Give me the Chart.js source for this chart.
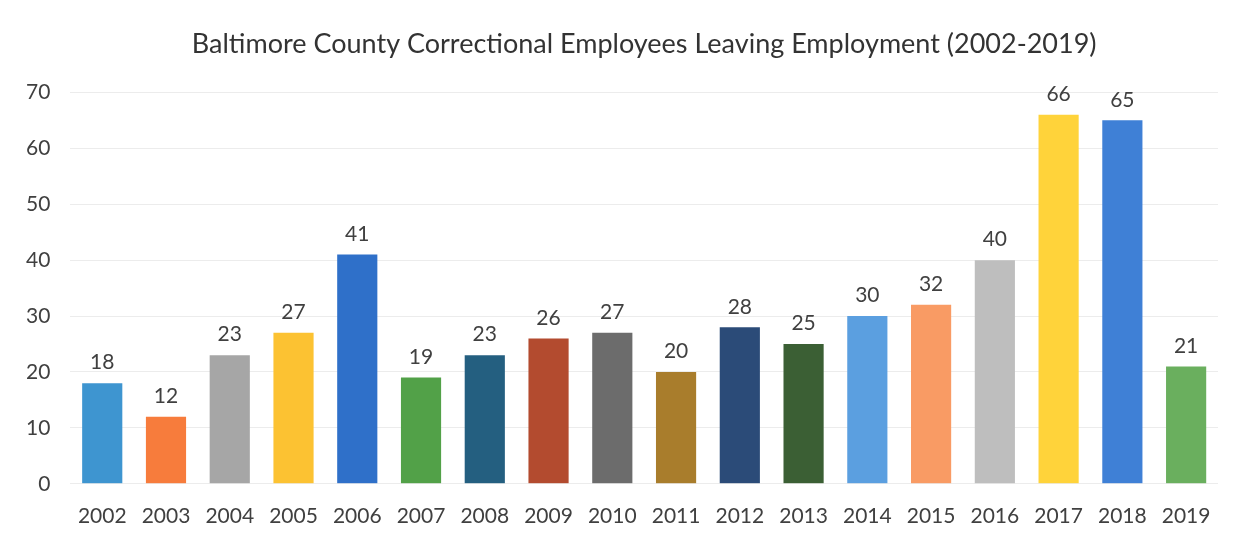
<!DOCTYPE html>
<html>
<head>
<meta charset="utf-8">
<script src="https://cdn.jsdelivr.net/npm/chart.js@4"></script>
<style>
  html, body { margin: 0; padding: 0; background: #fff; }
  #wrap { width: 1249px; height: 541px; }
</style>
</head>
<body>
<div id="wrap"><canvas id="chartLeaving"></canvas></div>
<script>
const years = ['2002', '2003', '2004', '2005', '2006', '2007', '2008', '2009', '2010',
  '2011', '2012', '2013', '2014', '2015', '2016', '2017', '2018', '2019'];
const leaving = [18, 12, 23, 27, 41, 19, 23, 26, 27, 20, 28, 25, 30, 32, 40, 66, 65, 21];
const barColors = ['#3e95d0', '#f77c3c', '#a6a6a6', '#fcc232', '#2f70c9', '#52a148',
  '#245f80', '#b34b2f', '#6c6c6c', '#a97d2c', '#2b4b78', '#3b5f34',
  '#5b9fe0', '#f99b64', '#bebebe', '#ffd33a', '#3f80d6', '#6aaf5e'];
const yTicks = [0, 10, 20, 30, 40, 50, 60, 70];

// draws the value above each bar
const valueLabels = {
  id: 'valueLabels',
  afterDatasetsDraw(chart) {
    const ctx = chart.ctx;
    const meta = chart.getDatasetMeta(0);
    ctx.save();
    ctx.font = '21px Lato';
    ctx.fillStyle = '#404040';
    ctx.textAlign = 'center';
    ctx.textBaseline = 'bottom';
    meta.data.forEach((bar, i) => {
      ctx.fillText(String(leaving[i]), bar.x, bar.y - 10);
    });
    ctx.restore();
  }
};

const ctx = document.getElementById('chartLeaving');

new Chart(ctx, {
  type: 'bar',
  data: {
    labels: years,
    datasets: [{
      label: 'Employees leaving',
      data: leaving,
      backgroundColor: barColors,
      barPercentage: 0.63,
      categoryPercentage: 1.0
    }]
  },
  options: {
    responsive: true,
    maintainAspectRatio: false,
    animation: false,
    layout: { padding: { top: 28, left: 6, right: 31, bottom: 0 } },
    plugins: {
      legend: { display: false },
      tooltip: { enabled: false },
      title: {
        display: true,
        fullSize: false,
        text: 'Baltimore County Correctional Employees Leaving Employment (2002-2019)',
        font: { family: 'Lato', size: 27, weight: 'normal' },
        color: '#333333',
        padding: { top: 0, bottom: 32 }
      }
    },
    scales: {
      x: {
        grid: { display: false },
        border: { display: false },
        ticks: { font: { family: 'Lato', size: 21 }, color: '#404040', padding: 12 }
      },
      y: {
        min: 0,
        max: 70,
        afterBuildTicks(axis) { axis.ticks = yTicks.map(v => ({ value: v })); },
        grid: { color: '#ececec', drawTicks: false },
        border: { display: false },
        ticks: { font: { family: 'Lato', size: 21 }, color: '#404040', padding: 20 }
      }
    }
  },
  plugins: [valueLabels]
});
</script>
</body>
</html>
